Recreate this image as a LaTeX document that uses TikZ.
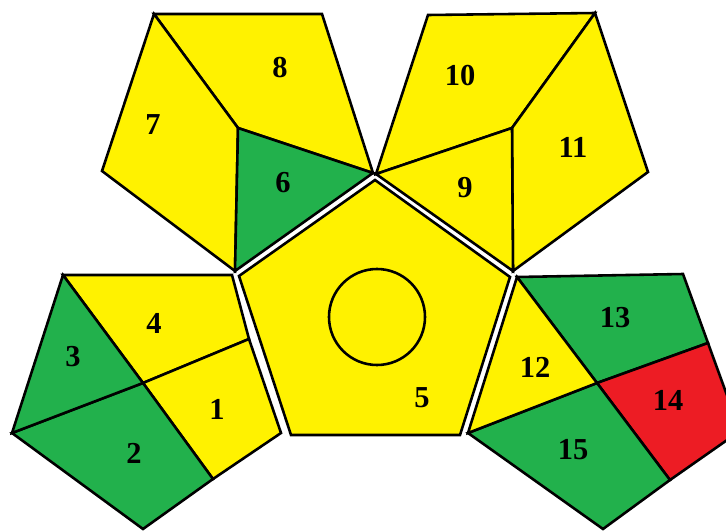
\documentclass[tikz,border=0pt]{standalone}
\usepackage{fontspec}
\setmainfont{Liberation Serif}
\definecolor{pyel}{RGB}{255,242,0}
\definecolor{pgrn}{RGB}{34,177,76}
\definecolor{pred}{RGB}{237,28,36}
\tikzset{
  face/.style={draw=black, line width=2.2pt},
  num/.style={font=\bfseries\fontsize{26}{26}\selectfont, inner sep=0pt}
}
\begin{document}
\begin{tikzpicture}[x=0.03cm, y=-0.03cm]
  \useasboundingbox (0,0) rectangle (726,532);
  \clip (0,0) rectangle (726,532);
  % upper left pentagon
  \coordinate (ua) at (154,14); \coordinate (ub) at (322,14);
  \coordinate (uc) at (373,173); \coordinate (ud) at (235,271);
  \coordinate (ue) at (102,171); \coordinate (uo) at (238,128);
  \draw[face, fill=pyel] (ua) -- (ub) -- (uc) -- (uo) -- cycle;
  \draw[face, fill=pyel] (ua) -- (uo) -- (ud) -- (ue) -- cycle;
  \draw[face, fill=pgrn] (uo) -- (uc) -- (ud) -- cycle;
  % upper right pentagon
  \coordinate (va) at (428,15); \coordinate (vb) at (595,13);
  \coordinate (vc) at (648,172); \coordinate (vd) at (513,271);
  \coordinate (ve) at (376,174); \coordinate (vo) at (512,128);
  \draw[face, fill=pyel] (va) -- (vb) -- (vo) -- (ve) -- cycle;
  \draw[face, fill=pyel] (vb) -- (vc) -- (vd) -- (vo) -- cycle;
  \draw[face, fill=pyel] (vo) -- (vd) -- (ve) -- cycle;
  % middle pentagon
  \coordinate (ma) at (375,180); \coordinate (mb) at (510,277);
  \coordinate (mc) at (460,435); \coordinate (md) at (291,435);
  \coordinate (me) at (239,276);
  \draw[face, fill=pyel] (ma) -- (mb) -- (mc) -- (md) -- (me) -- cycle;
  \draw[face] (377,317) circle (1.44cm);
  % lower left pentagon
  \coordinate (la) at (63,275); \coordinate (lb) at (232,275);
  \coordinate (lc) at (281,433); \coordinate (ld) at (143,529);
  \coordinate (le) at (12,433); \coordinate (lo) at (143,383);
  \coordinate (lm) at (249,339); \coordinate (ln) at (213,479);
  \draw[face, fill=pyel] (la) -- (lb) -- (lm) -- (lo) -- cycle;
  \draw[face, fill=pyel] (lo) -- (lm) -- (lc) -- (ln) -- cycle;
  \draw[face, fill=pgrn] (le) -- (lo) -- (ln) -- (ld) -- cycle;
  \draw[face, fill=pgrn] (la) -- (lo) -- (le) -- cycle;
  % lower right pentagon
  \coordinate (ra) at (517,277); \coordinate (rb) at (683,274);
  \coordinate (rc) at (740,431); \coordinate (rd) at (603,529);
  \coordinate (re) at (468,433); \coordinate (ro) at (597,383);
  \coordinate (rm) at (708,343); \coordinate (rn) at (670,480);
  \draw[face, fill=pgrn] (ra) -- (rb) -- (rm) -- (ro) -- cycle;
  \draw[face, fill=pred] (ro) -- (rm) -- (rc) -- (rn) -- cycle;
  \draw[face, fill=pgrn] (re) -- (ro) -- (rn) -- (rd) -- cycle;
  \draw[face, fill=pyel] (ra) -- (ro) -- (re) -- cycle;
  % numbers
  \node[num] (n1) at (217,409) {1};
  \node[num] (n2) at (134,453) {2};
  \node[num] (n3) at (73,357) {3};
  \node[num] (n4) at (154,323) {4};
  \node[num] (n5) at (422,398) {5};
  \node[num] (n6) at (283,183) {6};
  \node[num] (n7) at (153,125) {7};
  \node[num] (n8) at (280,68) {8};
  \node[num] (n9) at (465,188) {9};
  \node[num] (n10) at (460,76) {10};
  \node[num] (n11) at (573,147) {11};
  \node[num] (n12) at (535,367) {12};
  \node[num] (n13) at (615,318) {13};
  \node[num] (n14) at (668,400) {14};
  \node[num] (n15) at (573,450) {15};
\end{tikzpicture}
\end{document}
